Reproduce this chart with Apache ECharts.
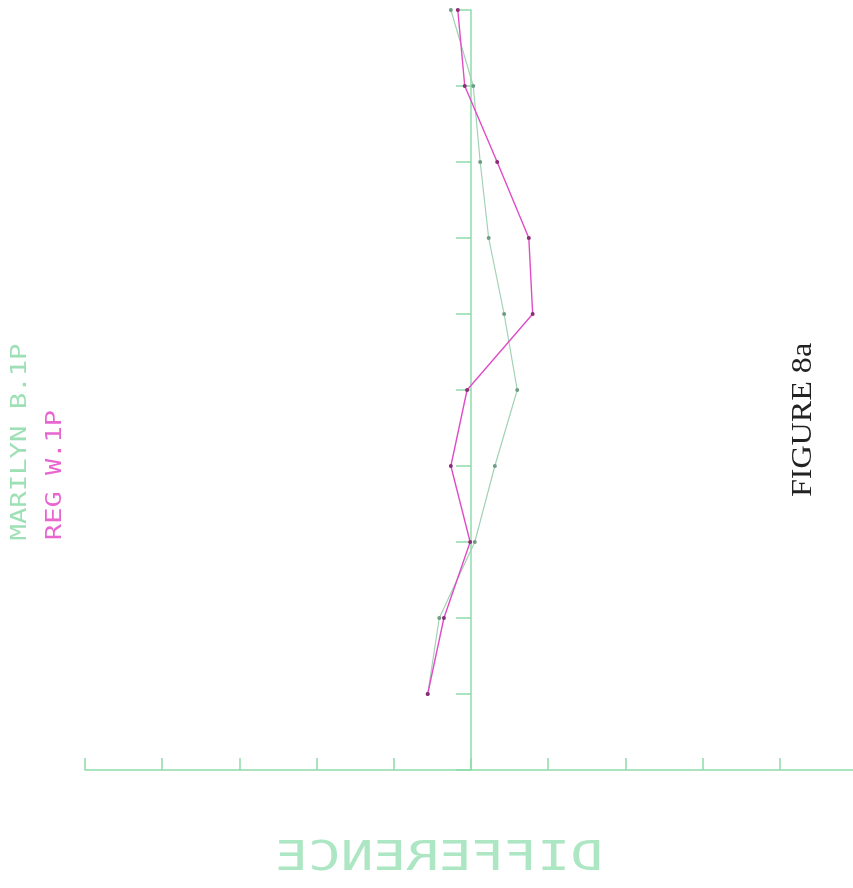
<!DOCTYPE html>
<html>
<head>
<meta charset="utf-8">
<script src="https://cdn.jsdelivr.net/npm/echarts@6/dist/echarts.min.js"></script>
<style>
  html, body { margin: 0; padding: 0; background: #fff; }
  #chart { width: 853px; height: 888px; }
</style>
</head>
<body>
<div id="chart"></div>
<script>
// levels along the vertical axis (one point per tick)
const levels = [1, 2, 3, 4, 5, 6, 7, 8, 9, 10];
// difference values (x units = tick spacing)
const marilyn = [-0.56, -0.41, 0.05, 0.31, 0.60, 0.43, 0.23, 0.12, 0.03, -0.26];
const reg = [-0.56, -0.35, -0.01, -0.26, -0.05, 0.80, 0.75, 0.34, -0.08, -0.17];
// tick positions on the horizontal axis
const xTicks = [-5, -4, -3, -2, -1, 0, 1, 2, 3, 4];

const axisGreen = '#8ddcaa';

const chart = echarts.init(document.getElementById('chart'));

// 把数值与层级拼成坐标对
const pairs = (vals) => vals.map((v, i) => [v, levels[i]]);

chart.setOption({
    animation: false,
    grid: { left: 85, right: 0, top: 10, bottom: 118 },
    xAxis: {
        type: 'value',
        min: -5,
        max: 4.95,
        interval: 1,
        axisLine: { onZero: false, lineStyle: { color: axisGreen, width: 1.5 } },
        // 只画到 4，轴线一直延伸到右边缘
        axisTick: { inside: true, length: 12, customValues: xTicks, lineStyle: { color: axisGreen, width: 1.5 } },
        axisLabel: { show: false },
        splitLine: { show: false }
    },
    yAxis: {
        type: 'value',
        min: 0,
        max: 10,
        interval: 1,
        axisLine: { onZero: true, lineStyle: { color: axisGreen, width: 1.5 } },
        axisTick: { length: 15, lineStyle: { color: axisGreen, width: 1.5 } },
        axisLabel: { show: false },
        splitLine: { show: false }
    },
    series: [
        {
            name: 'MARILYN B.1P',
            type: 'line',
            data: pairs(marilyn),
            symbol: 'circle',
            symbolSize: 4,
            lineStyle: { color: '#a2d2b6', width: 1.2 },
            itemStyle: { color: '#6f9c84' }
        },
        {
            name: 'REG W.1P',
            type: 'line',
            data: pairs(reg),
            symbol: 'circle',
            symbolSize: 4,
            lineStyle: { color: '#e04cc6', width: 1.4 },
            itemStyle: { color: '#8c2c74' }
        }
    ],
    graphic: [
        {
            type: 'text', x: 20, y: 442, rotation: Math.PI / 2, scaleX: 1.24,
            style: {
                text: 'MARILYN B.1P', font: '22px "DejaVu Sans Mono"',
                fill: '#9ee0b6', textAlign: 'center', textVerticalAlign: 'middle'
            }
        },
        {
            type: 'text', x: 55, y: 475, rotation: Math.PI / 2, scaleX: 1.23,
            style: {
                text: 'REG W.1P', font: '22px "DejaVu Sans Mono"',
                fill: '#e866d0', textAlign: 'center', textVerticalAlign: 'middle'
            }
        },
        {
            // 镜像文字
            type: 'text', x: 439, y: 860, scaleX: -1.36,
            style: {
                text: 'DIFFERENCE', font: '40px "DejaVu Sans Mono"',
                fill: '#ace6c2', textAlign: 'center', textVerticalAlign: 'middle'
            }
        },
        {
            type: 'text', x: 803, y: 420, rotation: Math.PI / 2, scaleX: 1.07,
            style: {
                text: 'FIGURE 8a', font: '30px "Liberation Serif"',
                fill: '#222', textAlign: 'center', textVerticalAlign: 'middle'
            }
        }
    ]
});
</script>
</body>
</html>
